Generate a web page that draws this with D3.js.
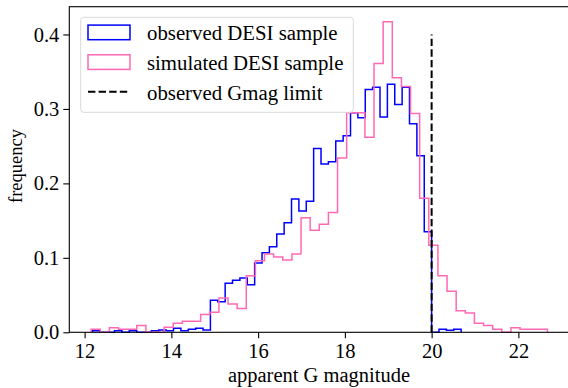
<!DOCTYPE html>
<html>
<head>
<meta charset="utf-8">
<script src="https://cdn.jsdelivr.net/npm/d3@7"></script>
<style>
  html, body { margin: 0; padding: 0; background: #fff; }
  svg { display: block; }
  text { font-family: "Liberation Serif", "Times New Roman", serif; fill: #000; }
</style>
</head>
<body>
<svg id="chart" width="568" height="388"></svg>
<script>
// ---------- data ----------
const seriesNames = ["observed DESI sample", "simulated DESI sample", "observed Gmag limit"];

// observed DESI sample: 50 bins between these limits
const observedRange = [12.18, 20.68];
const observedFreq = [
  0.002, 0, 0, 0.002, 0, 0.002, 0, 0, 0.002, 0.003,
  0.002, 0.0055, 0.002, 0.004, 0.0055, 0.003, 0.043, 0.041, 0.066, 0.070,
  0.073, 0.064, 0.093, 0.107, 0.115, 0.132, 0.147, 0.179, 0.163, 0.176,
  0.247, 0.226, 0.229, 0.257, 0.264, 0.295, 0.288, 0.326, 0.329, 0.289,
  0.333, 0.306, 0.329, 0.280, 0.237, 0.135, 0, 0.004, 0.0027, 0.004
];

// simulated DESI sample: 50 bins between these limits
const simulatedRange = [12.15, 22.67];
const simulatedFreq = [
  0.004, 0, 0.006, 0.004, 0.004, 0.009, 0, 0, 0.0067, 0.012,
  0.015, 0.015, 0.024, 0.027, 0.046, 0.038, 0.032, 0.076, 0.096, 0.105,
  0.101, 0.097, 0.105, 0.154, 0.137, 0.145, 0.161, 0.234, 0.295, 0.295,
  0.262, 0.361, 0.417, 0.342, 0.330, 0.294, 0.180, 0.117, 0.076, 0.055,
  0.029, 0.026, 0.012, 0.009, 0.004, 0, 0.006, 0.004, 0.004, 0.004
];

const gmagLimit = 20;
const gmagLimitHeight = [0, 0.4];

const xTicks = [12, 14, 16, 18, 20, 22];
const yTicks = [0.0, 0.1, 0.2, 0.3, 0.4];
const xLabel = "apparent G magnitude";
const yLabel = "frequency";

// ---------- layout ----------
const svg = d3.select("#chart");
const plot = { left: 69.3, right: 570, top: 6.7, bottom: 332.3 };

const x = d3.scaleLinear().domain([11.647, 23.19]).range([plot.left, plot.right]);
const y = d3.scaleLinear().domain([0, 0.4373]).range([plot.bottom, plot.top]);

function stepPoints(range, freq) {
  const n = freq.length;
  const w = (range[1] - range[0]) / n;
  const pts = [[range[0], 0]];
  freq.forEach((f, i) => {
    pts.push([range[0] + i * w, f]);
    pts.push([range[0] + (i + 1) * w, f]);
  });
  pts.push([range[1], 0]);
  return pts;
}

const line = d3.line().x(d => x(d[0])).y(d => y(d[1]));

const colors = { observed: "#0000ff", simulated: "#ff69b4", limit: "#000000" };

svg.append("path")
  .attr("d", line(stepPoints(observedRange, observedFreq)))
  .attr("fill", "none").attr("stroke", colors.observed)
  .attr("stroke-width", 1.5).attr("stroke-linejoin", "miter");

svg.append("path")
  .attr("d", line(stepPoints(simulatedRange, simulatedFreq)))
  .attr("fill", "none").attr("stroke", colors.simulated)
  .attr("stroke-width", 1.5).attr("stroke-linejoin", "miter");

svg.append("line")
  .attr("x1", x(gmagLimit)).attr("x2", x(gmagLimit))
  .attr("y1", y(gmagLimitHeight[0])).attr("y2", y(gmagLimitHeight[1]))
  .attr("stroke", colors.limit).attr("stroke-width", 2)
  .attr("stroke-dasharray", "7.4,3.2");

// ---------- axes ----------
const fontTick = 20.5;
const fontXLabel = 20.5;
const fontYLabel = 18.5;

const xAxis = d3.axisBottom(x).tickValues(xTicks).tickSize(6).tickPadding(3)
  .tickFormat(d3.format("d"));
const gx = svg.append("g").attr("transform", `translate(0,${plot.bottom})`).call(xAxis);
gx.select(".domain").remove();
gx.selectAll(".tick line").attr("stroke", "#000").attr("stroke-width", 1.1);
gx.selectAll(".tick text").attr("font-size", fontTick).attr("font-family", "Liberation Serif")
  .attr("dy", null).attr("y", 25.3);

const yAxis = d3.axisLeft(y).tickValues(yTicks).tickSize(6).tickPadding(4)
  .tickFormat(d3.format(".1f"));
const gy = svg.append("g").attr("transform", `translate(${plot.left},0)`).call(yAxis);
gy.select(".domain").remove();
gy.selectAll(".tick line").attr("stroke", "#000").attr("stroke-width", 1.1);
gy.selectAll(".tick text").attr("font-size", fontTick).attr("font-family", "Liberation Serif");

// frame
svg.append("rect")
  .attr("x", plot.left).attr("y", plot.top)
  .attr("width", plot.right - plot.left).attr("height", plot.bottom - plot.top)
  .attr("fill", "none").attr("stroke", "#000").attr("stroke-width", 1.1);

svg.append("text").attr("x", 319).attr("y", 381.5)
  .attr("text-anchor", "middle").attr("font-size", fontXLabel).text(xLabel);

svg.append("text").attr("transform", "translate(22,166) rotate(-90)")
  .attr("text-anchor", "middle").attr("font-size", fontYLabel).text(yLabel);

// ---------- legend ----------
const lg = svg.append("g");
lg.append("rect").attr("x", 80.7).attr("y", 17.3).attr("width", 272.6).attr("height", 95)
  .attr("rx", 3).attr("ry", 3)
  .attr("fill", "#fff").attr("fill-opacity", 0.8)
  .attr("stroke", "#d9d9d9").attr("stroke-width", 1);

const legendFont = 20.8;
const rows = [
  { name: seriesNames[0], type: "rect", color: colors.observed },
  { name: seriesNames[1], type: "rect", color: colors.simulated },
  { name: seriesNames[2], type: "dash", color: colors.limit }
];
rows.forEach((r, i) => {
  const cy = 32.4 + i * 29.7;
  if (r.type === "rect") {
    lg.append("rect").attr("x", 88).attr("y", cy - 7.3).attr("width", 42).attr("height", 14.6)
      .attr("fill", "none").attr("stroke", r.color).attr("stroke-width", 1.5);
  } else {
    lg.append("line").attr("x1", 88).attr("x2", 130).attr("y1", cy).attr("y2", cy)
      .attr("stroke", r.color).attr("stroke-width", 2).attr("stroke-dasharray", "7.4,3.2");
  }
  lg.append("text").attr("x", 147).attr("y", cy + 8).attr("font-size", legendFont).text(r.name);
});
</script>
</body>
</html>
